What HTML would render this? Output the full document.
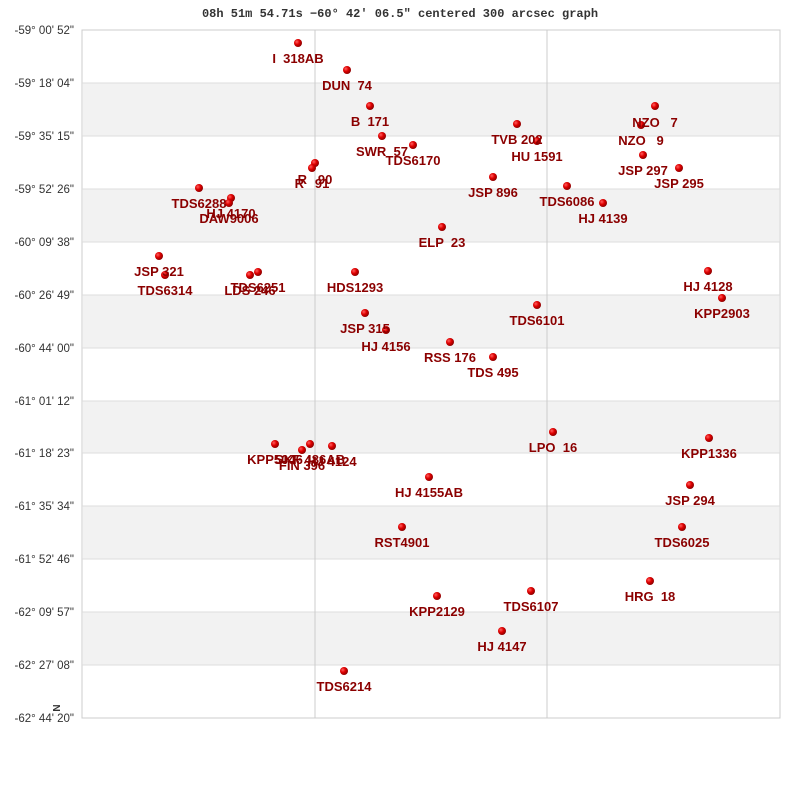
<!DOCTYPE html>
<html><head><meta charset="utf-8"><style>
html,body{margin:0;padding:0;background:#fff;}
svg{display:block;}
.l{font-family:"Liberation Sans",sans-serif;font-weight:bold;font-size:13px;fill:#8b0000;text-anchor:middle;}
.y{font-family:"Liberation Sans",sans-serif;font-size:11.5px;fill:#333;text-anchor:end;}
</style></head><body>
<svg width="800" height="800" xmlns="http://www.w3.org/2000/svg">
<defs><radialGradient id="g" cx="35%" cy="35%" r="65%"><stop offset="0" stop-color="#ff6060"/><stop offset="0.5" stop-color="#e00000"/><stop offset="1" stop-color="#900000"/></radialGradient></defs>
<rect x="82" y="30" width="698" height="688" fill="#fff" stroke="#ccc"/>
<g fill="#f2f2f2">
<rect x="83" y="83" width="696" height="53"/><rect x="83" y="189" width="696" height="53"/>
<rect x="83" y="295" width="696" height="53"/><rect x="83" y="401" width="696" height="52"/>
<rect x="83" y="506" width="696" height="53"/><rect x="83" y="612" width="696" height="53"/>
</g>
<g stroke="#ddd"><line x1="82" x2="780" y1="83" y2="83"/><line x1="82" x2="780" y1="136" y2="136"/><line x1="82" x2="780" y1="189" y2="189"/><line x1="82" x2="780" y1="242" y2="242"/><line x1="82" x2="780" y1="295" y2="295"/><line x1="82" x2="780" y1="348" y2="348"/><line x1="82" x2="780" y1="401" y2="401"/><line x1="82" x2="780" y1="453" y2="453"/><line x1="82" x2="780" y1="506" y2="506"/><line x1="82" x2="780" y1="559" y2="559"/><line x1="82" x2="780" y1="612" y2="612"/><line x1="82" x2="780" y1="665" y2="665"/></g>
<g stroke="#ccc"><line x1="315" x2="315" y1="30" y2="718"/><line x1="547" x2="547" y1="30" y2="718"/></g>
<text x="400" y="17" font-family="Liberation Mono,monospace" font-weight="bold" font-size="12" fill="#333" text-anchor="middle">08h 51m 54.71s −60° 42′ 06.5" centered 300 arcsec graph</text>
<g class="y">
<text x="74" y="34">-59° 00' 52"</text><text x="74" y="87">-59° 18' 04"</text><text x="74" y="140">-59° 35' 15"</text><text x="74" y="193">-59° 52' 26"</text><text x="74" y="246">-60° 09' 38"</text><text x="74" y="299">-60° 26' 49"</text><text x="74" y="352">-60° 44' 00"</text><text x="74" y="405">-61° 01' 12"</text><text x="74" y="457">-61° 18' 23"</text><text x="74" y="510">-61° 35' 34"</text><text x="74" y="563">-61° 52' 46"</text><text x="74" y="616">-62° 09' 57"</text><text x="74" y="669">-62° 27' 08"</text><text x="74" y="722">-62° 44' 20"</text>
</g>
<text x="60" y="708" font-family="Liberation Sans,sans-serif" font-weight="bold" font-size="10" fill="#333" text-anchor="middle" transform="rotate(-90 60 708)">N</text>
<g fill="url(#g)">
<circle cx="298" cy="43" r="4"/><circle cx="347" cy="70" r="4"/><circle cx="370" cy="106" r="4"/><circle cx="382" cy="136" r="4"/><circle cx="413" cy="145" r="4"/><circle cx="517" cy="124" r="4"/><circle cx="537" cy="141" r="4"/><circle cx="655" cy="106" r="4"/><circle cx="641" cy="125" r="4"/><circle cx="643" cy="155" r="4"/><circle cx="679" cy="168" r="4"/><circle cx="315" cy="163" r="4"/><circle cx="312" cy="168" r="4"/><circle cx="493" cy="177" r="4"/><circle cx="567" cy="186" r="4"/><circle cx="603" cy="203" r="4"/><circle cx="199" cy="188" r="4"/><circle cx="231" cy="198" r="4"/><circle cx="229" cy="203" r="4"/><circle cx="442" cy="227" r="4"/><circle cx="159" cy="256" r="4"/><circle cx="165" cy="275" r="4"/><circle cx="258" cy="272" r="4"/><circle cx="250" cy="275" r="4"/><circle cx="355" cy="272" r="4"/><circle cx="708" cy="271" r="4"/><circle cx="722" cy="298" r="4"/><circle cx="537" cy="305" r="4"/><circle cx="365" cy="313" r="4"/><circle cx="386" cy="330" r="4"/><circle cx="450" cy="342" r="4"/><circle cx="493" cy="357" r="4"/><circle cx="553" cy="432" r="4"/><circle cx="709" cy="438" r="4"/><circle cx="275" cy="444" r="4"/><circle cx="310" cy="444" r="4"/><circle cx="302" cy="450" r="4"/><circle cx="332" cy="446" r="4"/><circle cx="429" cy="477" r="4"/><circle cx="690" cy="485" r="4"/><circle cx="402" cy="527" r="4"/><circle cx="682" cy="527" r="4"/><circle cx="650" cy="581" r="4"/><circle cx="531" cy="591" r="4"/><circle cx="437" cy="596" r="4"/><circle cx="502" cy="631" r="4"/><circle cx="344" cy="671" r="4"/>
</g>
<g class="l">
<text x="298" y="63">I &#160;318AB</text><text x="347" y="90">DUN &#160;74</text><text x="370" y="126">B &#160;171</text><text x="382" y="156">SWR &#160;57</text><text x="413" y="165">TDS6170</text><text x="517" y="144">TVB 202</text><text x="537" y="161">HU 1591</text><text x="655" y="127">NZO &#160;&#160;7</text><text x="641" y="145">NZO &#160;&#160;9</text><text x="643" y="175">JSP 297</text><text x="679" y="188">JSP 295</text><text x="315" y="184">R &#160;&#160;90</text><text x="312" y="188">R &#160;&#160;91</text><text x="493" y="197">JSP 896</text><text x="567" y="206">TDS6086</text><text x="603" y="223">HJ 4139</text><text x="199" y="208">TDS6288</text><text x="231" y="218">HJ 4170</text><text x="229" y="223">DAW9006</text><text x="442" y="247">ELP &#160;23</text><text x="159" y="276">JSP 321</text><text x="165" y="295">TDS6314</text><text x="258" y="292">TDS6251</text><text x="250" y="295">LDS 246</text><text x="355" y="292">HDS1293</text><text x="708" y="291">HJ 4128</text><text x="722" y="318">KPP2903</text><text x="537" y="325">TDS6101</text><text x="365" y="333">JSP 315</text><text x="386" y="351">HJ 4156</text><text x="450" y="362">RSS 176</text><text x="493" y="377">TDS 495</text><text x="553" y="452">LPO &#160;16</text><text x="709" y="458">KPP1336</text><text x="275" y="464">KPP5046</text><text x="310" y="464">SKF 486AB</text><text x="302" y="470">FIN 396</text><text x="332" y="466">HJ 4124</text><text x="429" y="497">HJ 4155AB</text><text x="690" y="505">JSP 294</text><text x="402" y="547">RST4901</text><text x="682" y="547">TDS6025</text><text x="650" y="601">HRG &#160;18</text><text x="531" y="611">TDS6107</text><text x="437" y="616">KPP2129</text><text x="502" y="651">HJ 4147</text><text x="344" y="691">TDS6214</text>
</g>
</svg>
</body></html>
